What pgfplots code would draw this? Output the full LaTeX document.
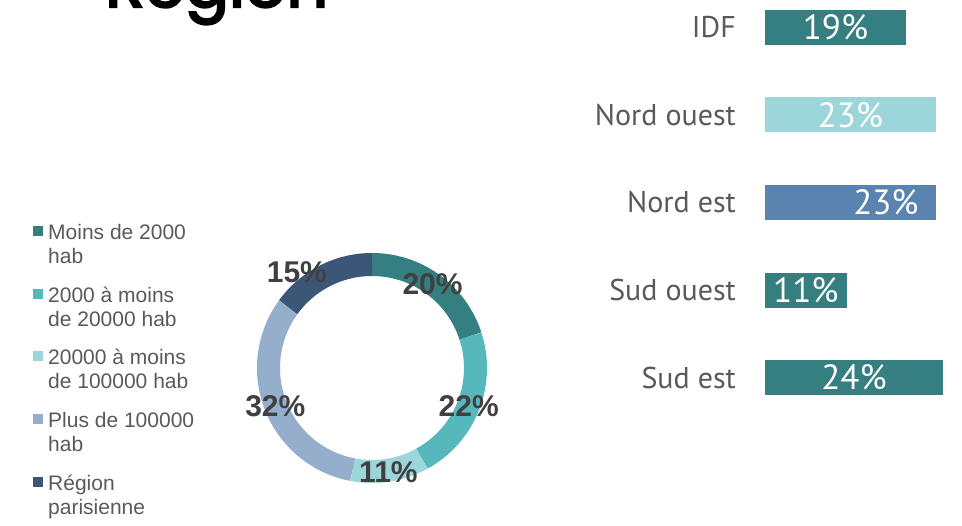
\documentclass[border=0pt]{standalone}
\usepackage{fontspec}
\usepackage{pgfplots}
\usepackage{pgfplotstable}
\pgfplotsset{compat=1.18}
\setmainfont{Liberation Sans}
\newfontfamily\dinfont{PT Sans}
\newfontfamily\titlefont{Poppins}[FakeBold=3.5]

\definecolor{cA}{HTML}{357F80}
\definecolor{cB}{HTML}{56B7BC}
\definecolor{cC}{HTML}{9DD6DA}
\definecolor{cD}{HTML}{94AECB}
\definecolor{cE}{HTML}{3B5677}
\definecolor{cNE}{HTML}{5A84AF}
\definecolor{txtgray}{HTML}{595959}
\definecolor{lblgray}{HTML}{404040}

\newcommand\donutfont{\bfseries\fontsize{30bp}{30bp}\selectfont}

% taille de commune (donut)
\pgfplotstableread{
share color lr la
20 cA 103 0
22 cB 104 0
11 cC 105 0
32 cD 104 0
15 cE 122 11
}\typetable

% region (barres)
\pgfplotstableread{
y v color dx
0 19 cA 0
1 23 cC 0
2 23 cNE 4.8
3 11 cA 0
4 24 cA 0
}\regiontable

\begin{document}
\begin{tikzpicture}
\useasboundingbox (0,0) rectangle (962bp,526bp);
\clip (0,0) rectangle (962bp,526bp);

\node[anchor=base west, inner sep=0pt, font=\titlefont\fontsize{65bp}{65bp}\selectfont] at (105bp,519bp) {Région};

% donut
\begin{axis}[
    at={(372bp,158bp)}, anchor=origin,
    scale only axis, width=230bp, height=230bp,
    xmin=-115, xmax=115, ymin=-115, ymax=115,
    hide axis, clip=false,
    legend image code/.code={
        \fill[#1, draw=none] (0bp,2bp) rectangle (10bp,12bp);
    },
    legend style={at={(-0.9739,1.1405)}, anchor=north west,
        draw=none, fill=none, inner sep=0pt, row sep=28bp, column sep=3bp,
        font=\fontsize{21bp}{24bp}\selectfont, text=txtgray,
        cells={anchor=west, inner sep=0pt}},
]
\addlegendimage{fill=cA}
\addlegendentry{\begin{tabular}{@{}l@{}}Moins de 2000\\hab\end{tabular}}
\addlegendimage{fill=cB}
\addlegendentry{\begin{tabular}{@{}l@{}}2000 à moins\\de 20000 hab\end{tabular}}
\addlegendimage{fill=cC}
\addlegendentry{\begin{tabular}{@{}l@{}}20000 à moins\\de 100000 hab\end{tabular}}
\addlegendimage{fill=cD}
\addlegendentry{\begin{tabular}{@{}l@{}}Plus de 100000\\hab\end{tabular}}
\addlegendimage{fill=cE}
\addlegendentry{\begin{tabular}{@{}l@{}}Région\\parisienne\end{tabular}}

\xdef\angA{90}
\pgfplotsinvokeforeach{0,...,4}{
    \pgfplotstablegetelem{#1}{share}\of\typetable \let\share\pgfplotsretval
    \pgfplotstablegetelem{#1}{color}\of\typetable \let\col\pgfplotsretval
    \pgfmathsetmacro\angB{\angA-3.6*\share}
    \edef\temp{
        \noexpand\draw[line width=23bp, \col] (axis cs:0,0) ++(\angA:103.5bp)
            arc[start angle=\angA, end angle=\angB, radius=103.5bp];
    }\temp
    \xdef\angA{\angB}
}
\xdef\angA{90}
\pgfplotsinvokeforeach{0,...,4}{
    \pgfplotstablegetelem{#1}{share}\of\typetable \let\share\pgfplotsretval
    \pgfplotstablegetelem{#1}{lr}\of\typetable \let\lr\pgfplotsretval
    \pgfplotstablegetelem{#1}{la}\of\typetable \let\la\pgfplotsretval
    \pgfmathsetmacro\angB{\angA-3.6*\share}
    \pgfmathsetmacro\angM{(\angA+\angB)/2+\la}
    \pgfmathsetmacro\lx{\lr*cos(\angM)}
    \pgfmathsetmacro\ly{\lr*sin(\angM)}
    \edef\temp{
        \noexpand\node[font=\noexpand\donutfont, text=lblgray, inner sep=0pt]
            at (axis cs:\lx,\ly) {\share\noexpand\%};
    }\temp
    \xdef\angA{\angB}
}
\end{axis}

% barres par region
\begin{axis}[
    at={(765bp,148.5bp)}, anchor=south west,
    scale only axis, width=178bp, height=350bp,
    xmin=0, xmax=24, ymin=0, ymax=4, y dir=reverse,
    clip=false,
    axis line style={draw=none}, tick style={draw=none},
    xtick=\empty, ytick={0,1,2,3,4},
    yticklabels={IDF,Nord ouest,Nord est,Sud ouest,Sud est},
    yticklabel style={font=\dinfont\fontsize{30bp}{30bp}\selectfont,
        text=txtgray, inner sep=0pt, xshift=-29bp},
    /pgf/number format/assume math mode=true,
]
\pgfplotsinvokeforeach{0,...,4}{
    \pgfplotstablegetelem{#1}{color}\of\regiontable
    \edef\temp{
        \noexpand\addplot[xbar, bar width=35bp, bar shift=0pt,
            fill=\pgfplotsretval, draw=none,
            restrict expr to domain={\noexpand\thisrow{y}}{#1:#1}]
            table[x=v, y=y] {\noexpand\regiontable};
    }\temp
}
\addplot[draw=none, mark=none, point meta=explicit,
    nodes near coords={\pgfmathprintnumber{\pgfplotspointmeta}\%},
    every node near coord/.style={anchor=center, text=white,
        font=\dinfont\fontsize{35bp}{35bp}\selectfont}]
    table[x expr=\thisrow{v}/2+\thisrow{dx}, y=y, meta=v] {\regiontable};
\end{axis}
\end{tikzpicture}
\end{document}
